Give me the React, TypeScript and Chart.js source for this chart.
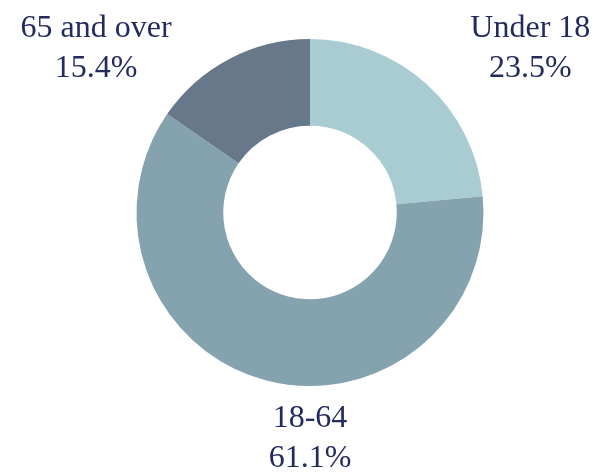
import React, { useEffect, useRef } from "react";
import { Chart, registerables } from "chart.js";

Chart.register(...registerables);

const categories = ["Under 18", "18-64", "65 and over"];
const values = [23.5, 61.1, 15.4];
const colors = ["#a9cbd2", "#85a3af", "#67788b"];

// label block anchor, in units of the outer radius, relative to the centre
const labelPlacement = [
  { dx: 1.27, dy: -1.012 },
  { dx: 0.0, dy: 1.236 },
  { dx: -1.233, dy: -1.012 },
];

const labelPlugin = {
  id: "outerLabels",
  afterDatasetsDraw(chart: any) {
    const ctx = chart.ctx;
    const meta = chart.getDatasetMeta(0);
    ctx.save();
    ctx.font = "32px 'Liberation Serif', serif";
    ctx.fillStyle = "#232b5e";
    ctx.textAlign = "center";
    ctx.textBaseline = "alphabetic";
    meta.data.forEach((arc: any, i: number) => {
      const { x, y, outerRadius } = arc.getProps(["x", "y", "outerRadius"], true);
      const p = labelPlacement[i];
      const lx = x + p.dx * outerRadius;
      const ly = y + p.dy * outerRadius;
      ctx.fillText(categories[i], lx, ly);
      ctx.fillText(values[i].toFixed(1) + "%", lx, ly + 40);
    });
    ctx.restore();
  },
};

export default function App() {
  const ref = useRef<HTMLCanvasElement | null>(null);
  useEffect(() => {
    if (!ref.current) return;
    const chart = new Chart(ref.current, {
      type: "doughnut",
      data: {
        labels: categories,
        datasets: [
          {
            data: values,
            backgroundColor: colors,
            borderWidth: 0,
          },
        ],
      },
      options: {
        animation: false,
        responsive: true,
        maintainAspectRatio: false,
        cutout: "50%",
        layout: { padding: { left: 136, right: 125, top: 39, bottom: 89 } },
        plugins: {
          legend: { display: false },
          tooltip: { enabled: false },
        },
      },
      plugins: [labelPlugin],
    });
    return () => chart.destroy();
  }, []);
  return (
    <div style={{ position: "fixed", left: 0, top: 0, width: 609, height: 475, background: "#fff" }}>
      <canvas ref={ref} />
    </div>
  );
}
